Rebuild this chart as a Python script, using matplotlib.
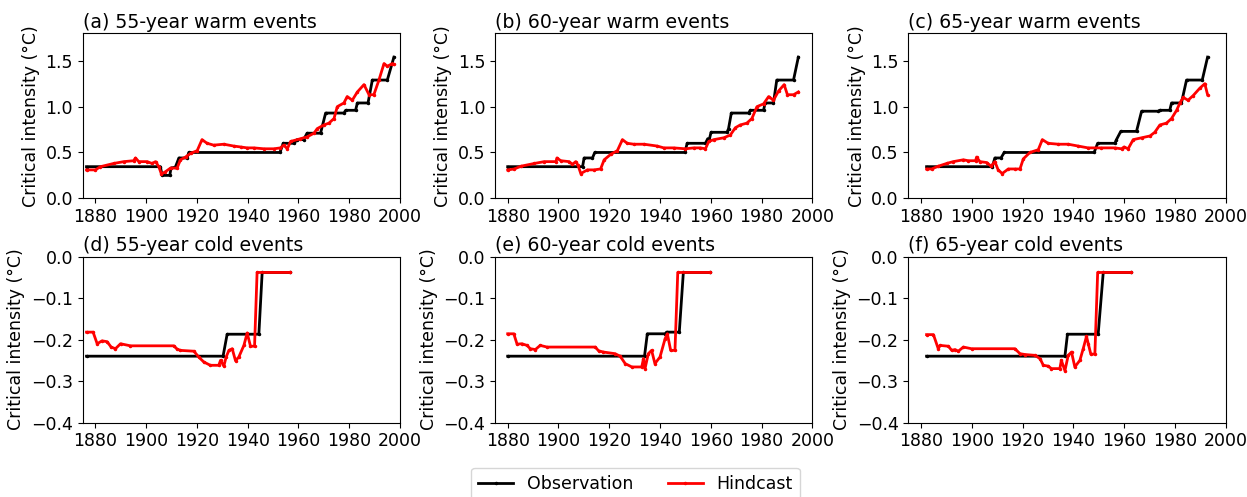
import matplotlib
matplotlib.use("Agg")
import matplotlib.pyplot as plt

# ---------------- data ----------------
titles = ["(a) 55-year warm events", "(b) 60-year warm events", "(c) 65-year warm events",
          "(d) 55-year cold events", "(e) 60-year cold events", "(f) 65-year cold events"]
xticks = [1880, 1900, 1920, 1940, 1960, 1980, 2000]
warm_yticks = [0.0, 0.5, 1.0, 1.5]
cold_yticks = [0.0, -0.1, -0.2, -0.3, -0.4]

# (a) 55-year warm
a_obs_x = [1876.5, 1905.6, 1906.3, 1909.3, 1909.8, 1911.5, 1912.9, 1916.1, 1916.8, 1952.7,
           1954.0, 1958.2, 1959.5, 1962.0, 1963.4, 1968.7, 1970.7, 1977.9, 1978.6, 1982.5,
           1983.2, 1987.4, 1989.1, 1995.0, 1997.6]
a_obs_y = [0.345, 0.345, 0.25, 0.25, 0.33, 0.34, 0.44, 0.44, 0.50, 0.50,
           0.60, 0.60, 0.64, 0.64, 0.71, 0.71, 0.93, 0.93, 0.96, 0.96,
           1.04, 1.04, 1.29, 1.29, 1.54]
a_hc_x = [1876.5, 1880.0, 1882.0, 1887.2, 1891.2, 1895.1, 1895.8, 1897.1, 1900.4, 1902.3,
          1903.7, 1905.0, 1906.0, 1907.6, 1909.6, 1912.2, 1913.5, 1915.5, 1917.5, 1920.1,
          1922.0, 1924.0, 1926.6, 1930.6, 1934.5, 1937.2, 1939.8, 1942.4, 1946.4, 1950.3,
          1952.9, 1954.2, 1955.6, 1956.9, 1960.8, 1963.4, 1966.1, 1967.4, 1970.0, 1972.0,
          1974.0, 1975.3, 1977.9, 1979.2, 1981.2, 1983.2, 1985.8, 1987.8, 1989.7, 1991.7,
          1993.7, 1995.0, 1997.0, 1997.6]
a_hc_y = [0.31, 0.31, 0.345, 0.38, 0.40, 0.41, 0.44, 0.40, 0.40, 0.38,
          0.40, 0.345, 0.265, 0.29, 0.33, 0.33, 0.42, 0.45, 0.49, 0.52,
          0.64, 0.60, 0.58, 0.59, 0.57, 0.56, 0.55, 0.55, 0.54, 0.54,
          0.55, 0.58, 0.54, 0.62, 0.65, 0.67, 0.71, 0.76, 0.80, 0.82,
          0.87, 1.00, 1.04, 1.11, 1.07, 1.16, 1.24, 1.13, 1.13, 1.29,
          1.47, 1.44, 1.47, 1.46]

# (b) 60-year warm
b_obs_x = [1880.0, 1909.5, 1910.1, 1913.4, 1914.3, 1949.8, 1950.7, 1957.9, 1958.8, 1959.5,
           1960.1, 1966.4, 1967.0, 1968.1, 1974.9, 1975.6, 1980.8, 1981.4, 1984.7, 1986.0,
           1992.6, 1994.5]
b_obs_y = [0.345, 0.345, 0.44, 0.44, 0.50, 0.50, 0.60, 0.60, 0.65, 0.65,
           0.72, 0.72, 0.76, 0.93, 0.93, 0.96, 0.96, 1.04, 1.04, 1.29,
           1.29, 1.54]
b_hc_x = [1880.0, 1882.6, 1885.2, 1890.5, 1894.4, 1899.0, 1899.4, 1900.9, 1904.2, 1905.5,
          1906.8, 1907.7, 1908.8, 1911.4, 1914.0, 1916.6, 1918.0, 1920.6, 1923.2, 1925.2,
          1927.1, 1929.7, 1933.7, 1938.9, 1941.5, 1945.4, 1950.0, 1953.3, 1955.9, 1957.9,
          1959.2, 1961.2, 1965.1, 1967.7, 1969.7, 1971.6, 1974.2, 1976.2, 1978.2, 1980.8,
          1982.8, 1984.7, 1986.7, 1988.9, 1990.2, 1992.6, 1994.5]
b_hc_y = [0.31, 0.32, 0.35, 0.38, 0.40, 0.40, 0.44, 0.41, 0.40, 0.37,
          0.40, 0.36, 0.27, 0.31, 0.31, 0.32, 0.42, 0.48, 0.52, 0.64,
          0.60, 0.59, 0.59, 0.57, 0.55, 0.55, 0.54, 0.55, 0.55, 0.54,
          0.62, 0.64, 0.66, 0.69, 0.77, 0.80, 0.82, 0.87, 1.00, 1.03,
          1.11, 1.07, 1.17, 1.24, 1.13, 1.13, 1.16]

# (c) 65-year warm
c_obs_x = [1882.2, 1908.1, 1909.1, 1911.5, 1912.8, 1948.2, 1949.6, 1956.4, 1957.0, 1958.7,
           1964.9, 1966.9, 1973.4, 1974.0, 1978.0, 1978.7, 1982.6, 1984.6, 1990.8, 1992.9]
c_obs_y = [0.345, 0.345, 0.44, 0.44, 0.50, 0.50, 0.60, 0.60, 0.64, 0.73,
           0.73, 0.95, 0.95, 0.96, 0.96, 1.04, 1.04, 1.29, 1.29, 1.54]
c_hc_x = [1882.2, 1884.2, 1886.8, 1890.1, 1892.7, 1896.7, 1898.6, 1901.5, 1901.9, 1903.2,
          1905.9, 1907.6, 1909.1, 1910.4, 1912.0, 1914.4, 1917.0, 1919.0, 1920.3, 1922.9,
          1926.2, 1927.8, 1930.1, 1934.1, 1938.0, 1941.9, 1945.8, 1951.1, 1956.4, 1959.0,
          1960.0, 1961.6, 1963.6, 1966.9, 1970.2, 1972.1, 1974.1, 1976.7, 1978.7, 1980.7,
          1982.0, 1983.3, 1985.2, 1987.2, 1989.8, 1991.8, 1992.9]
c_hc_y = [0.32, 0.32, 0.35, 0.38, 0.40, 0.42, 0.41, 0.41, 0.45, 0.40,
          0.39, 0.35, 0.40, 0.31, 0.27, 0.32, 0.32, 0.32, 0.43, 0.50,
          0.53, 0.64, 0.60, 0.59, 0.59, 0.57, 0.55, 0.55, 0.55, 0.54,
          0.56, 0.54, 0.64, 0.66, 0.68, 0.72, 0.80, 0.82, 0.87, 0.96,
          1.04, 1.10, 1.07, 1.12, 1.20, 1.25, 1.13]

# (d) 55-year cold
d_obs_x = [1876.5, 1930.3, 1931.9, 1944.4, 1945.7, 1956.5]
d_obs_y = [-0.24, -0.24, -0.187, -0.187, -0.038, -0.038]
d_hc_x = [1876.5, 1879.1, 1880.7, 1882.6, 1884.6, 1886.2, 1887.9, 1889.9, 1893.8, 1910.9,
          1912.2, 1913.5, 1918.8, 1920.7, 1922.7, 1925.3, 1928.6, 1929.3, 1930.6, 1931.5,
          1932.6, 1933.9, 1935.2, 1936.5, 1938.5, 1939.8, 1941.1, 1942.7, 1943.7, 1956.5]
d_hc_y = [-0.182, -0.182, -0.210, -0.203, -0.205, -0.218, -0.222, -0.210, -0.215, -0.215,
          -0.223, -0.226, -0.228, -0.242, -0.254, -0.262, -0.262, -0.250, -0.264, -0.242,
          -0.226, -0.222, -0.251, -0.242, -0.214, -0.184, -0.216, -0.216, -0.038, -0.038]

# (e) 60-year cold
e_obs_x = [1880.0, 1933.9, 1935.0, 1942.0, 1942.6, 1947.6, 1949.2, 1959.7]
e_obs_y = [-0.24, -0.24, -0.186, -0.186, -0.182, -0.182, -0.038, -0.038]
e_hc_x = [1880.0, 1882.4, 1883.7, 1885.6, 1887.6, 1888.9, 1890.9, 1892.8, 1895.5, 1914.5,
          1915.8, 1917.7, 1922.3, 1924.3, 1926.3, 1928.9, 1932.8, 1933.5, 1934.1, 1935.4,
          1936.7, 1938.0, 1940.0, 1942.0, 1942.9, 1944.2, 1945.9, 1947.0, 1959.7]
e_hc_y = [-0.186, -0.186, -0.211, -0.210, -0.214, -0.222, -0.224, -0.214, -0.218, -0.218,
          -0.227, -0.230, -0.234, -0.240, -0.258, -0.266, -0.266, -0.246, -0.270, -0.234,
          -0.226, -0.258, -0.242, -0.198, -0.186, -0.226, -0.226, -0.038, -0.038]

# (f) 65-year cold
f_obs_x = [1882.2, 1936.7, 1937.7, 1949.8, 1951.8, 1962.7]
f_obs_y = [-0.24, -0.24, -0.187, -0.187, -0.038, -0.038]
f_hc_x = [1882.2, 1884.9, 1886.8, 1887.5, 1890.8, 1892.1, 1893.4, 1894.7, 1896.7, 1899.9,
          1917.0, 1919.0, 1921.0, 1924.9, 1926.9, 1928.2, 1930.1, 1931.4, 1934.7, 1935.3,
          1936.7, 1938.0, 1939.3, 1940.6, 1942.6, 1943.9, 1945.2, 1945.9, 1946.9, 1948.5,
          1949.6, 1962.7]
f_hc_y = [-0.188, -0.188, -0.222, -0.214, -0.216, -0.226, -0.224, -0.228, -0.218, -0.222,
          -0.222, -0.234, -0.236, -0.238, -0.246, -0.262, -0.264, -0.270, -0.270, -0.250,
          -0.275, -0.238, -0.230, -0.266, -0.250, -0.222, -0.192, -0.210, -0.235, -0.235,
          -0.038, -0.038]

obs_x = [a_obs_x, b_obs_x, c_obs_x, d_obs_x, e_obs_x, f_obs_x]
obs_y = [a_obs_y, b_obs_y, c_obs_y, d_obs_y, e_obs_y, f_obs_y]
hc_x = [a_hc_x, b_hc_x, c_hc_x, d_hc_x, e_hc_x, f_hc_x]
hc_y = [a_hc_y, b_hc_y, c_hc_y, d_hc_y, e_hc_y, f_hc_y]

# ---------------- figure ----------------
W, H = 1247, 497
fig = plt.figure(figsize=(W / 100, H / 100), dpi=100)

lefts = [82.7, 495.0, 908.3]
axw = 317.3
rows = [(33.3, 198.3), (256.7, 422.5)]
FS_TICK = 12.5
FS_TITLE = 13.6

for i in range(6):
    r, c = divmod(i, 3)
    top, bot = rows[r]
    ax = fig.add_axes([lefts[c] / W, 1 - bot / H, axw / W, (bot - top) / H])
    ax.plot(obs_x[i], obs_y[i], color="black", lw=2, marker=".", ms=3, label="Observation")
    ax.plot(hc_x[i], hc_y[i], color="red", lw=2, marker=".", ms=3, label="Hindcast")
    ax.set_xlim(1875, 2000)
    ax.set_xticks(xticks)
    if r == 0:
        ax.set_ylim(0, 1.8)
        ax.set_yticks(warm_yticks)
    else:
        ax.set_ylim(-0.4, 0)
        ax.set_yticks(cold_yticks)
    ax.tick_params(labelsize=FS_TICK)
    ax.set_title(titles[i], fontsize=FS_TITLE, loc="left", pad=4)
    ax.set_ylabel("Critical intensity (°C)", fontsize=FS_TICK)
    if i == 0:
        handles, labels = ax.get_legend_handles_labels()

fig.legend(handles, labels, loc="upper center", bbox_to_anchor=(0.5096, 1 - 468 / H),
           borderaxespad=0.0, ncol=2, fontsize=FS_TICK, frameon=True, fancybox=True)

fig.savefig("out.png", dpi=100)
